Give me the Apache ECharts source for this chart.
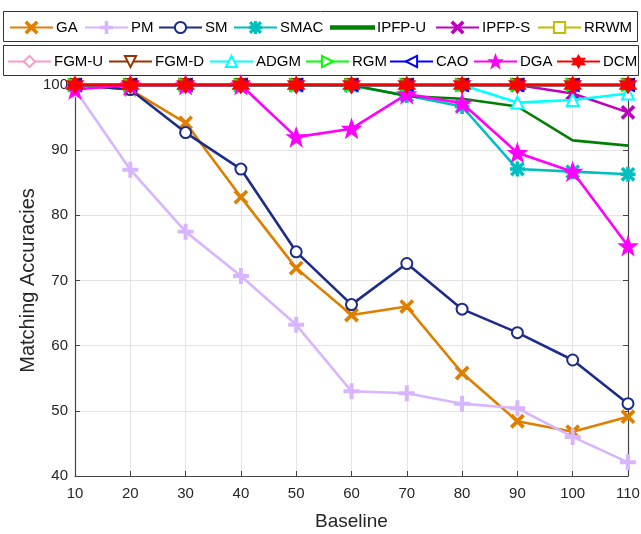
<!DOCTYPE html>
<html><head><meta charset="utf-8">
<script src="https://cdn.jsdelivr.net/npm/echarts@6/dist/echarts.min.js"></script>
<style>html,body{margin:0;padding:0;background:#fff}#c{width:641px;height:534px}</style>
</head><body><div id="c"></div>
<script>
const xValues = [10, 20, 30, 40, 50, 60, 70, 80, 90, 100, 110];
const seriesNames = ['GA','PM','SM','SMAC','IPFP-U','IPFP-S','RRWM','FGM-U','FGM-D','ADGM','RGM','CAO','DGA','DCM'];
const GA     = [100, 99.3, 94.2, 82.8, 71.9, 64.7, 66.0, 55.8, 48.4, 46.8, 49.1];
const PM     = [99.3, 87.0, 77.5, 70.7, 63.2, 53.0, 52.7, 51.1, 50.4, 46.0, 42.1];
const SM     = [100, 99.3, 92.7, 87.1, 74.4, 66.3, 72.6, 65.6, 62.0, 57.8, 51.1];
const SMAC   = [100, 100, 100, 100, 100, 99.9, 98.4, 96.7, 87.1, 86.7, 86.3];
const IPFPU  = [100, 100, 100, 100, 100, 100, 98.3, 97.9, 96.7, 91.5, 90.7];
const IPFPS  = [100, 100, 100, 100, 100, 100, 100, 100, 100, 98.7, 95.8];
const RRWM   = [100, 100, 100, 100, 100, 100, 100, 100, 100, 100, 100];
const FGMU   = [100, 100, 100, 100, 100, 100, 100, 100, 100, 100, 100];
const FGMD   = [100, 100, 100, 100, 100, 100, 100, 100, 100, 100, 100];
const ADGM   = [100, 100, 100, 100, 100, 100, 100, 100, 97.3, 97.7, 98.7];
const RGM    = [100, 100, 100, 100, 100, 100, 100, 100, 100, 100, 100];
const CAO    = [100, 100, 100, 100, 100, 100, 100, 100, 100, 100, 100];
const DGA    = [99.3, 100, 100, 100, 92.0, 93.3, 98.6, 97.2, 89.6, 86.7, 75.3];
const DCM    = [100, 100, 100, 100, 100, 100, 100, 100, 100, 100, 100];
const allData = [GA, PM, SM, SMAC, IPFPU, IPFPS, RRWM, FGMU, FGMD, ADGM, RGM, CAO, DGA, DCM];

const FONT = "'Liberation Sans', Arial, sans-serif";
const X_PATH = 'path://M0,1L1,0L5,4L9,0L10,1L6,5L10,9L9,10L5,6L1,10L0,9L4,5Z';
const PLUS_PATH = 'path://M4.3,0H5.7V4.3H10V5.7H5.7V10H4.3V5.7H0V4.3H4.3Z';
const AST_PATH = 'path://M4.4,0H5.6V4.4H10V5.6H5.6V10H4.4V5.6H0V4.4H4.4Z M1.2,0.4L5,4.2L8.8,0.4L9.6,1.2L5.8,5L9.6,8.8L8.8,9.6L5,5.8L1.2,9.6L0.4,8.8L4.2,5L0.4,1.2Z';
const LINE_ICON = 'path://M0,0L100,0L100,5.5L0,5.5Z';
function starPath(n, ro, ri) {
  let s = 'path://';
  for (let i = 0; i < 2 * n; i++) {
    const r = i % 2 === 0 ? ro : ri;
    const a = -Math.PI / 2 + i * Math.PI / n;
    s += (i === 0 ? 'M' : 'L') + (10 + r * Math.cos(a)).toFixed(2) + ',' + (10 + r * Math.sin(a)).toFixed(2);
  }
  return s + 'Z';
}
const STAR5 = starPath(5, 10, 4);
const STAR6 = starPath(6, 10, 5.5);

const styles = [
  {c:'#DF7F00', sym:X_PATH, size:12},
  {c:'#D8B6FF', sym:PLUS_PATH, size:14},
  {c:'#1C2C88', sym:'emptyCircle', size:11},
  {c:'#00BFBF', sym:AST_PATH, size:13},
  {c:'#008000', sym:'none', size:0},
  {c:'#BF00BF', sym:X_PATH, size:12},
  {c:'#BFBF00', sym:'emptyRect', size:8},
  {c:'#FF99C8', sym:'emptyDiamond', size:13},
  {c:'#993300', sym:'emptyTriangle', size:12, rot:180},
  {c:'#00FFFF', sym:'emptyTriangle', size:12},
  {c:'#00FF00', sym:'emptyTriangle', size:12, rot:-90},
  {c:'#0000FF', sym:'emptyTriangle', size:12, rot:90},
  {c:'#FF00FF', sym:STAR5, size:16},
  {c:'#FF0000', sym:STAR6, size:15}
];

const legendLeft = [9, 84, 158, 233, 330, 435, 537, 7, 108, 209, 305, 389, 473, 556];
const row1 = [0,1,2,3,4,5,6];

const series = seriesNames.map((n, i) => ({
  name: n, type: 'line',
  data: xValues.map((x, j) => [x, allData[i][j]]),
  symbol: styles[i].sym, symbolSize: styles[i].size, symbolRotate: styles[i].rot || 0,
  showAllSymbol: true, clip: false,
  lineStyle: {color: styles[i].c, width: 2.6},
  itemStyle: {color: styles[i].c, borderColor: styles[i].c, borderWidth: 2},
  emphasis: {disabled: true},
  z: 2 + i
}));

const legends = seriesNames.map((n, i) => ({
  data: [styles[i].sym === 'none' ? {name: n, icon: LINE_ICON} : n],
  left: legendLeft[i],
  top: row1.includes(i) ? 20 : 54,
  padding: 0,
  itemWidth: 43, itemHeight: 14, itemGap: 0,
  textStyle: {fontFamily: FONT, fontSize: 15, color: '#000', padding: [0,0,0,-2]},
  selectedMode: false
}));

const chart = echarts.init(document.getElementById('c'), null, {renderer: 'canvas'});
chart.setOption({
  animation: false,
  backgroundColor: '#fff',
  textStyle: {fontFamily: FONT},
  graphic: [
    {type: 'rect', shape: {x: 3.5, y: 11.5, width: 634, height: 30}, style: {fill: '#fff', stroke: '#333', lineWidth: 1}, z: -1},
    {type: 'rect', shape: {x: 3.5, y: 45.5, width: 635, height: 30}, style: {fill: '#fff', stroke: '#333', lineWidth: 1}, z: -1}
  ],
  legend: legends,
  grid: {left: 75, right: 13, top: 85, bottom: 58, containLabel: false, outerBoundsMode: 'none'},
  xAxis: [{
    type: 'value', min: 10, max: 110, interval: 10,
    name: 'Baseline', nameLocation: 'middle', nameGap: 36, nameMoveOverlap: false,
    nameTextStyle: {fontFamily: FONT, fontSize: 19, color: '#262626'},
    axisLine: {show: true, lineStyle: {color: '#444', width: 1.2}},
    axisTick: {show: true, inside: true, length: 5, lineStyle: {color: '#444'}},
    axisLabel: {fontFamily: FONT, fontSize: 15, color: '#262626', margin: 10},
    splitLine: {show: true, lineStyle: {color: '#e3e3e3', width: 1}}
  }, {
    type: 'value', min: 10, max: 110, interval: 10, position: 'top',
    axisLine: {show: true, lineStyle: {color: '#444'}},
    axisTick: {show: false}, axisLabel: {show: false}, splitLine: {show: false}
  }],
  yAxis: [{
    type: 'value', min: 40, max: 100, interval: 10,
    name: 'Matching Accuracies', nameLocation: 'middle', nameGap: 37, nameMoveOverlap: false,
    nameTextStyle: {fontFamily: FONT, fontSize: 20, color: '#262626'},
    axisLine: {show: true, lineStyle: {color: '#444', width: 1.2}},
    axisTick: {show: true, inside: true, length: 5, lineStyle: {color: '#444'}},
    axisLabel: {fontFamily: FONT, fontSize: 15, color: '#262626', margin: 7},
    splitLine: {show: true, lineStyle: {color: '#e3e3e3', width: 1}}
  }, {
    type: 'value', min: 40, max: 100, interval: 10, position: 'right',
    axisLine: {show: true, lineStyle: {color: '#444', width: 1.2}},
    axisTick: {show: true, inside: true, length: 5, lineStyle: {color: '#444'}},
    axisLabel: {show: false}, splitLine: {show: false}
  }],
  series: series
});
</script></body></html>
